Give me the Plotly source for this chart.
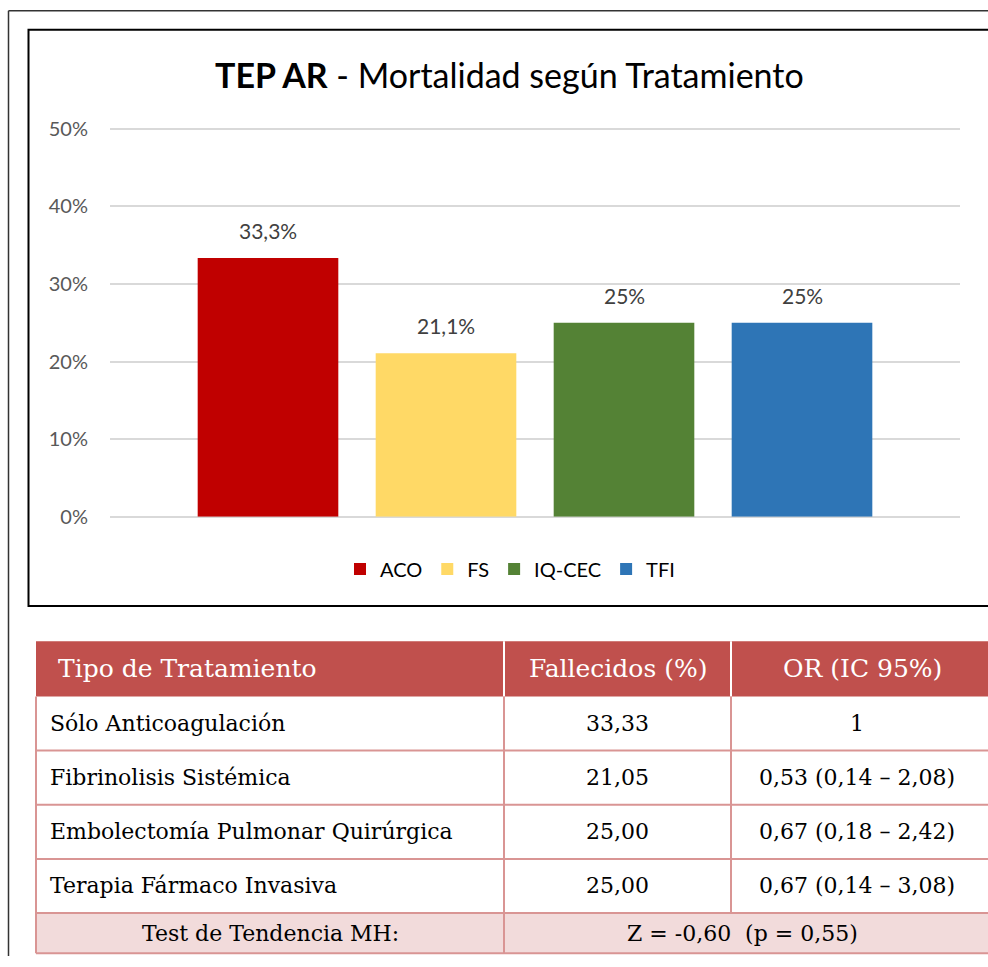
import plotly.graph_objects as go

# ---------------- data ----------------
categories = ["ACO", "FS", "IQ-CEC", "TFI"]
mortality = [0.3333, 0.2105, 0.25, 0.25]
bar_labels = ["33,3%", "21,1%", "25%", "25%"]
bar_colors = ["#C00000", "#FFD966", "#548235", "#2E75B6"]

table_header = ["Tipo de Tratamiento", "Fallecidos (%)", "OR (IC 95%)"]
treatments = ["Sólo Anticoagulación", "Fibrinolisis Sistémica",
              "Embolectomía Pulmonar Quirúrgica", "Terapia Fármaco Invasiva"]
deaths_pct = ["33,33", "21,05", "25,00", "25,00"]
odds_ratio = ["1", "0,53 (0,14 – 2,08)", "0,67 (0,18 – 2,42)", "0,67 (0,14 – 3,08)"]
trend_label = "Test de Tendencia MH:"
trend_value = "Z = -0,60 \u00a0(p = 0,55)"

# ---------------- layout helpers ----------------
W, H = 988, 967
# vertical calibration of the rendered page (observed offset / usable height)
Y0, HH = 12.8, 943.0


def px(x):
    return x / W


def py(y):
    return 1 - (y - Y0) / HH


SANS = "Lato, 'Open Sans', sans-serif"
SERIF = "'DejaVu Serif', serif"

fig = go.Figure()
for cat, val, col in zip(categories, mortality, bar_colors):
    fig.add_trace(go.Bar(x=[cat], y=[val], name=cat, marker_color=col,
                         marker_line_width=0, width=0.79, hoverinfo="skip"))

annotations = []
# bar value labels
for cat, val, lab in zip(categories, mortality, bar_labels):
    annotations.append(dict(x=cat, y=val, xref="x", yref="y", text=lab,
                            showarrow=False, yanchor="bottom", yshift=13,
                            font=dict(family=SANS, size=21, color="#404040")))
# title
annotations.append(dict(x=px(509), y=py(77), xref="paper", yref="paper",
                        text="<b>TEP AR</b> - Mortalidad según Tratamiento",
                        showarrow=False, xanchor="center", yanchor="middle",
                        font=dict(family=SANS, size=34, color="#000000")))

shapes = []
# outer frame
shapes.append(dict(type="line", xref="paper", yref="paper", x0=px(8.5), x1=px(8.5),
                   y0=py(13.5), y1=0, line=dict(color="#333333", width=1.5)))
shapes.append(dict(type="line", xref="paper", yref="paper", x0=px(8.5), x1=px(1000),
                   y0=py(13.5), y1=py(13.5), line=dict(color="#333333", width=1.5)))
# chart frame
shapes.append(dict(type="rect", xref="paper", yref="paper", x0=px(28.5), x1=px(1010),
                   y0=py(32.5), y1=py(607), line=dict(color="#000000", width=2)))

# ---------------- table ----------------
TX0, TX1 = 36, 1000
COLX = [36, 504, 731, 1000]
HDR_Y0, HDR_Y1 = 642, 697
ROW_H = 54
LAST_H = 40
PINK = "#D99594"
rows_y = [HDR_Y1 + i * ROW_H for i in range(len(treatments) + 1)]
last_y0, last_y1 = rows_y[-1], rows_y[-1] + LAST_H

# header background
shapes.append(dict(type="rect", xref="paper", yref="paper", x0=px(TX0), x1=px(TX1),
                   y0=py(HDR_Y0), y1=py(HDR_Y1), fillcolor="#C0504D", line_width=0,
                   layer="below"))
# last row background
shapes.append(dict(type="rect", xref="paper", yref="paper", x0=px(TX0), x1=px(TX1),
                   y0=py(last_y0), y1=py(last_y1), fillcolor="#F2DBDB", line_width=0,
                   layer="below"))
# header dividers (white)
for cx in COLX[1:3]:
    shapes.append(dict(type="line", xref="paper", yref="paper", x0=px(cx), x1=px(cx),
                       y0=py(HDR_Y0), y1=py(HDR_Y1), line=dict(color="#FFFFFF", width=2)))
# horizontal pink lines
for yy in rows_y[1:] + [last_y1]:
    shapes.append(dict(type="line", xref="paper", yref="paper", x0=px(TX0), x1=px(TX1),
                       y0=py(yy), y1=py(yy), line=dict(color=PINK, width=2)))
# vertical pink lines
shapes.append(dict(type="line", xref="paper", yref="paper", x0=px(TX0), x1=px(TX0),
                   y0=py(HDR_Y1), y1=py(last_y1), line=dict(color=PINK, width=2)))
shapes.append(dict(type="line", xref="paper", yref="paper", x0=px(COLX[1]), x1=px(COLX[1]),
                   y0=py(HDR_Y1), y1=py(last_y1), line=dict(color=PINK, width=2)))
shapes.append(dict(type="line", xref="paper", yref="paper", x0=px(COLX[2]), x1=px(COLX[2]),
                   y0=py(HDR_Y1), y1=py(rows_y[-1]), line=dict(color=PINK, width=2)))

# header texts
hdr_cy = (HDR_Y0 + HDR_Y1) / 2
annotations.append(dict(x=px(COLX[0] + 20), y=py(hdr_cy), xref="paper", yref="paper",
                        text=table_header[0], showarrow=False, xanchor="left",
                        yanchor="middle", font=dict(family=SERIF, size=25, color="#FFFFFF")))
for i in (1, 2):
    annotations.append(dict(x=px((COLX[i] + COLX[i + 1]) / 2 - (3 if i == 2 else 0)),
                            y=py(hdr_cy), xref="paper", yref="paper",
                            text=table_header[i], showarrow=False, xanchor="center",
                            yanchor="middle", font=dict(family=SERIF, size=25, color="#FFFFFF")))
# body texts
for r, (t, d, o) in enumerate(zip(treatments, deaths_pct, odds_ratio)):
    cy = rows_y[r] + ROW_H / 2
    annotations.append(dict(x=px(COLX[0] + 12), y=py(cy), xref="paper", yref="paper",
                            text=t, showarrow=False, xanchor="left", yanchor="middle",
                            font=dict(family=SERIF, size=22, color="#000000")))
    annotations.append(dict(x=px((COLX[1] + COLX[2]) / 2), y=py(cy), xref="paper",
                            yref="paper", text=d, showarrow=False, xanchor="center",
                            yanchor="middle", font=dict(family=SERIF, size=22, color="#000000")))
    annotations.append(dict(x=px((COLX[2] + COLX[3]) / 2 - 9), y=py(cy), xref="paper",
                            yref="paper", text=o, showarrow=False, xanchor="center",
                            yanchor="middle", font=dict(family=SERIF, size=22, color="#000000")))
# last row
lcy = (last_y0 + last_y1) / 2
annotations.append(dict(x=px((COLX[0] + COLX[1]) / 2), y=py(lcy), xref="paper", yref="paper",
                        text=trend_label, showarrow=False, xanchor="center", yanchor="middle",
                        font=dict(family=SERIF, size=22, color="#000000")))
annotations.append(dict(x=px(742), y=py(lcy), xref="paper", yref="paper",
                        text=trend_value, showarrow=False, xanchor="center", yanchor="middle",
                        font=dict(family=SERIF, size=22, color="#000000")))

# y axis: 0% at y=518 px, 50% at y=131 px; a few px of headroom so the 50% grid line shows
Y_ZERO, Y_TOP, PAD = 518, 131, 3
y_max = 0.5 * (Y_ZERO - (Y_TOP - PAD)) / (Y_ZERO - Y_TOP)

fig.update_layout(
    width=W, height=H,
    margin=dict(l=0, r=0, t=0, b=0),
    paper_bgcolor="#FFFFFF", plot_bgcolor="#FFFFFF",
    barmode="overlay",
    showlegend=True,
    legend=dict(orientation="h", x=px(510), xanchor="center", y=py(570),
                yanchor="middle", font=dict(family=SANS, size=20, color="#000000"),
                itemwidth=30, bgcolor="rgba(0,0,0,0)"),
    xaxis=dict(domain=[px(110), px(960)], type="category", categoryarray=categories,
               range=[-0.8876, 3.8876], showticklabels=False, showgrid=False,
               zeroline=False, showline=False, fixedrange=True),
    yaxis=dict(domain=[py(Y_ZERO), py(Y_TOP - PAD)], range=[0, y_max],
               tickvals=[0, 0.1, 0.2, 0.3, 0.4, 0.5], tickformat=".0%",
               showgrid=True, gridcolor="#D9D9D9", gridwidth=1.5, zeroline=True,
               zerolinecolor="#D9D9D9", zerolinewidth=1.5, showline=False, ticks="",
               ticklabelstandoff=21,
               tickfont=dict(family=SANS, size=20, color="#595959"), fixedrange=True),
    annotations=annotations,
    shapes=shapes,
)

fig.write_html(
    "out.html",
    config={"displayModeBar": False},
    post_script="document.body.style.margin='0';document.body.style.overflow='hidden';",
)
